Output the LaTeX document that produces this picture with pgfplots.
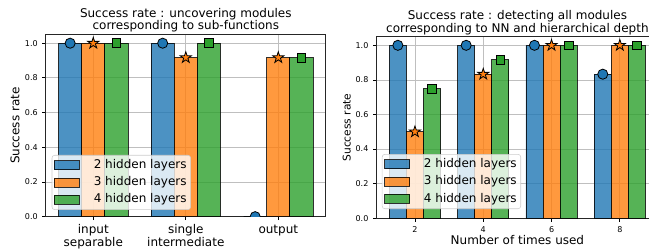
\documentclass[border=0pt]{standalone}
\usepackage{fontspec}
\setmainfont{DejaVu Sans}
\usepackage{pgfplots}
\pgfplotsset{compat=1.18}
\definecolor{tblue}{HTML}{1F77B4}
\definecolor{torange}{HTML}{FF7F0E}
\definecolor{tgreen}{HTML}{2CA02C}
\pgfdeclareplotmark{fstar}{%
  \pgfpathmoveto{\pgfpointpolar{90}{\pgfplotmarksize}}%
  \pgfpathlineto{\pgfpointpolar{126}{0.382\pgfplotmarksize}}%
  \pgfpathlineto{\pgfpointpolar{162}{\pgfplotmarksize}}%
  \pgfpathlineto{\pgfpointpolar{198}{0.382\pgfplotmarksize}}%
  \pgfpathlineto{\pgfpointpolar{234}{\pgfplotmarksize}}%
  \pgfpathlineto{\pgfpointpolar{270}{0.382\pgfplotmarksize}}%
  \pgfpathlineto{\pgfpointpolar{306}{\pgfplotmarksize}}%
  \pgfpathlineto{\pgfpointpolar{342}{0.382\pgfplotmarksize}}%
  \pgfpathlineto{\pgfpointpolar{18}{\pgfplotmarksize}}%
  \pgfpathlineto{\pgfpointpolar{54}{0.382\pgfplotmarksize}}%
  \pgfpathclose
  \pgfusepathqfillstroke
}
\pgfplotsset{
  mystyle/.style={
    scale only axis,
    xmajorgrids, ymajorgrids,
    grid style={black!25, line width=0.6pt},
    ymin=0, ymax=1.05,
    ytick={0,0.2,0.4,0.6,0.8,1.0},
    tick align=outside,
    major tick length=2.6pt,
    xtick pos=left, ytick pos=left,
    tick style={black, line width=0.6pt},
    axis line style={black!85, line width=0.6pt},
    clip marker paths=true,
    /pgf/number format/assume math mode=true,
    yticklabel style={font=\fontsize{6}{7}\selectfont, /pgf/number format/fixed, /pgf/number format/fixed zerofill, /pgf/number format/precision=1},
    legend cell align=left,
    legend style={anchor=south west, font=\fontsize{9}{11}\selectfont, draw=black!20, rounded corners=2pt, fill=white, fill opacity=0.8, text opacity=1, inner sep=1.5pt, row sep=1.2pt,
      nodes={inner sep=1.5pt, text height=6.8pt, text depth=2pt},
      /tikz/every odd column/.append style={column sep=9pt}},
    title style={font=\fontsize{9}{9.4}\selectfont, align=center, anchor=south, inner sep=0pt, at={(0.5,1)}, yshift=-4.6pt},
  },
  bars/.style={ybar, bar shift=0pt, bar width=#1, draw=black, draw opacity=0.8, fill opacity=0.8, line width=0.6pt,
    legend image code/.code={\draw[##1, sharp corners, fill opacity=0.8] (0pt,-3.4pt) rectangle (18.75pt,3.4pt);}},
  mk/.style={only marks, forget plot, mark options={draw=black, line width=0.6pt, fill=#1}},
}
\begin{document}
\begin{tikzpicture}
\begin{axis}[mystyle, at={(34.4pt,25pt)}, anchor=south west, width=209.9pt, height=136.6pt,
  xmin=-0.5125, xmax=2.5125, xtick={0,1,2},
  xticklabels={{input\\separable},{single\\intermediate},{output}},
  xticklabel style={align=center, font=\fontsize{9}{9.75}\selectfont},
  title={Success rate : uncovering modules\\corresponding to sub-functions},
  ylabel={Success rate},
  ylabel style={font=\fontsize{9}{10}\selectfont, at={(axis description cs:-0.11,0.5)}, anchor=center},
  legend style={at={(0.021,0.037)}}]
\addplot[bars=0.25, fill=tblue] coordinates {(-0.25,1) (0.75,1) (1.75,0)};
\addlegendentry{2 hidden layers}
\addplot[bars=0.25, fill=torange] coordinates {(0,1) (1,0.917) (2,0.917)};
\addlegendentry{3 hidden layers}
\addplot[bars=0.25, fill=tgreen] coordinates {(0.25,1) (1.25,1) (2.25,0.917)};
\addlegendentry{4 hidden layers}
\addplot[mk=tblue, mark=*, mark size=3.8pt] coordinates {(-0.25,1) (0.75,1) (1.75,0)};
\addplot[mk=torange, mark=fstar, mark size=4.4pt] coordinates {(0,1) (1,0.917) (2,0.917)};
\addplot[mk=tgreen, mark=square*, mark size=3.3pt] coordinates {(0.25,1) (1.25,1) (2.25,0.917)};
\end{axis}
\begin{axis}[mystyle, at={(282.4pt,23.8pt)}, anchor=south west, width=211.3pt, height=136.2pt,
  xmin=0.875, xmax=9.125, xtick={2,4,6,8},
  xticklabel style={font=\fontsize{6}{7}\selectfont},
  title={Success rate : detecting all modules\\corresponding to NN and hierarchical depth},
  ylabel={Success rate},
  ylabel style={font=\fontsize{8}{9}\selectfont, at={(axis description cs:-0.106,0.5)}, anchor=center},
  xlabel={Number of times used},
  xlabel style={font=\fontsize{9}{10}\selectfont, at={(axis description cs:0.5,-0.12)}, anchor=center},
  legend style={at={(0.019,0.051)}}]
\addplot[bars=0.5, fill=tblue] coordinates {(1.5,1) (3.5,1) (5.5,1) (7.5,0.833)};
\addlegendentry{2 hidden layers}
\addplot[bars=0.5, fill=torange] coordinates {(2,0.5) (4,0.833) (6,1) (8,1)};
\addlegendentry{3 hidden layers}
\addplot[bars=0.5, fill=tgreen] coordinates {(2.5,0.75) (4.5,0.917) (6.5,1) (8.5,1)};
\addlegendentry{4 hidden layers}
\addplot[mk=tblue, mark=*, mark size=3.8pt] coordinates {(1.5,1) (3.5,1) (5.5,1) (7.5,0.833)};
\addplot[mk=torange, mark=fstar, mark size=4.4pt] coordinates {(2,0.5) (4,0.833) (6,1) (8,1)};
\addplot[mk=tgreen, mark=square*, mark size=3.3pt] coordinates {(2.5,0.75) (4.5,0.917) (6.5,1) (8.5,1)};
\end{axis}
\pgfresetboundingbox
\path[use as bounding box] (0,0) rectangle (486.75pt,187.5pt);
\end{tikzpicture}
\end{document}
